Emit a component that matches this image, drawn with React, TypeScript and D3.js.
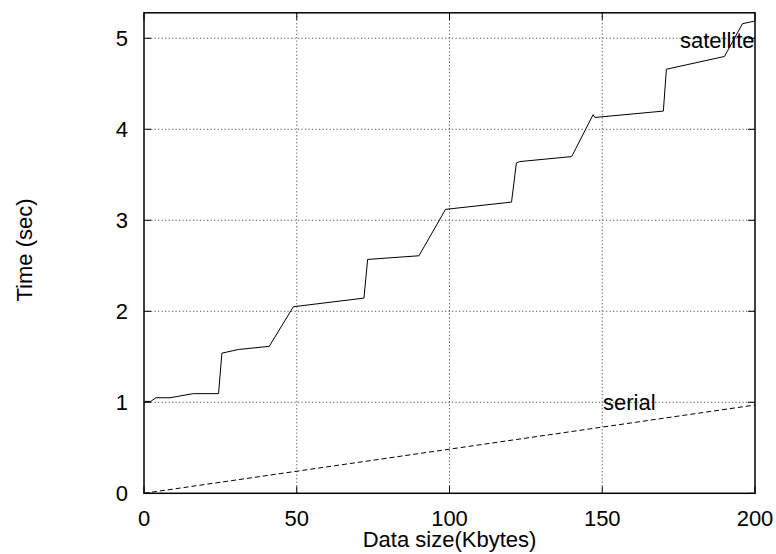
import React from 'react';
import * as d3 from 'd3';

// satellite transfer time
const satX = [0.3, 2.2, 3.9, 8.5, 16.1, 24.4, 25.5, 30.9, 41, 48.9, 72, 73.2, 90, 98.7, 120.3, 121.9, 123, 140, 147, 147.6, 170, 171, 190, 195.9, 200];
const satY = [1.01, 1.01, 1.05, 1.05, 1.095, 1.095, 1.54, 1.58, 1.615, 2.05, 2.145, 2.57, 2.61, 3.12, 3.2, 3.63, 3.645, 3.7, 4.16, 4.13, 4.2, 4.66, 4.8, 5.16, 5.19];

// serial link, straight line
const serX = [0, 200];
const serY = [0, 0.97];

const xTicks = [0, 50, 100, 150, 200];
const yTicks = [0, 1, 2, 3, 4, 5];

export default function App() {
    const width = 776, height = 554;
    const margin = {top: 12.8, right: 21, bottom: 60.7, left: 144};

    const x = d3.scaleLinear().domain([0, 200]).range([margin.left, width - margin.right]);
    const y = d3.scaleLinear().domain([0, 5.28]).range([height - margin.bottom, margin.top]);

    const line = d3.line<[number, number]>()
        .x(d => x(d[0]))
        .y(d => y(d[1]));

    const satPts: [number, number][] = satX.map((v, i) => [v, satY[i]]);
    const serPts: [number, number][] = serX.map((v, i) => [v, serY[i]]);

    const x0 = x(0), x1 = x(200), y0 = y(0), y1 = margin.top;
    const font = '"Liberation Sans", Arial, sans-serif';
    const tick = 7;

    return (
        <svg width={width} height={height} style={{position: 'absolute', left: 0, top: 0, background: '#fff'}}
             fontFamily={font} fontSize={22}>
            {/* grid */}
            {xTicks.slice(1, -1).map(t => (
                <line key={'gx' + t} x1={x(t)} x2={x(t)} y1={y0} y2={y1} stroke="#555" strokeDasharray="1.2,2.3"/>
            ))}
            {yTicks.slice(1).map(t => (
                <line key={'gy' + t} x1={x0} x2={x1} y1={y(t)} y2={y(t)} stroke="#555" strokeDasharray="1.2,2.3"/>
            ))}

            {/* ticks, mirrored on both sides */}
            {xTicks.map(t => (
                <g key={'tx' + t} stroke="#000">
                    <line x1={x(t)} x2={x(t)} y1={y0} y2={y0 - tick}/>
                    <line x1={x(t)} x2={x(t)} y1={y1} y2={y1 + tick}/>
                </g>
            ))}
            {yTicks.map(t => (
                <g key={'ty' + t} stroke="#000">
                    <line x1={x0} x2={x0 + tick} y1={y(t)} y2={y(t)}/>
                    <line x1={x1} x2={x1 - tick} y1={y(t)} y2={y(t)}/>
                </g>
            ))}

            {/* series */}
            <path d={line(serPts) || ''} fill="none" stroke="#000" strokeWidth={1} strokeDasharray="5,3"/>
            <path d={line(satPts) || ''} fill="none" stroke="#000" strokeWidth={1}/>

            {/* frame */}
            <rect x={x0} y={y1} width={x1 - x0} height={y0 - y1} fill="none" stroke="#000" strokeWidth={1.5}/>

            {/* tick labels */}
            {xTicks.map(t => (
                <text key={'lx' + t} x={x(t)} y={526} textAnchor="middle">{t}</text>
            ))}
            {yTicks.map(t => (
                <text key={'ly' + t} x={128} y={y(t) + 8} textAnchor="end">{t}</text>
            ))}

            {/* axis titles */}
            <text x={(x0 + x1) / 2} y={547} textAnchor="middle">Data size(Kbytes)</text>
            <text transform="translate(32,250) rotate(-90)" textAnchor="middle">Time (sec)</text>

            {/* series labels */}
            <text x={680} y={47.5}>satellite</text>
            <text x={603} y={410}>serial</text>
        </svg>
    );
}
